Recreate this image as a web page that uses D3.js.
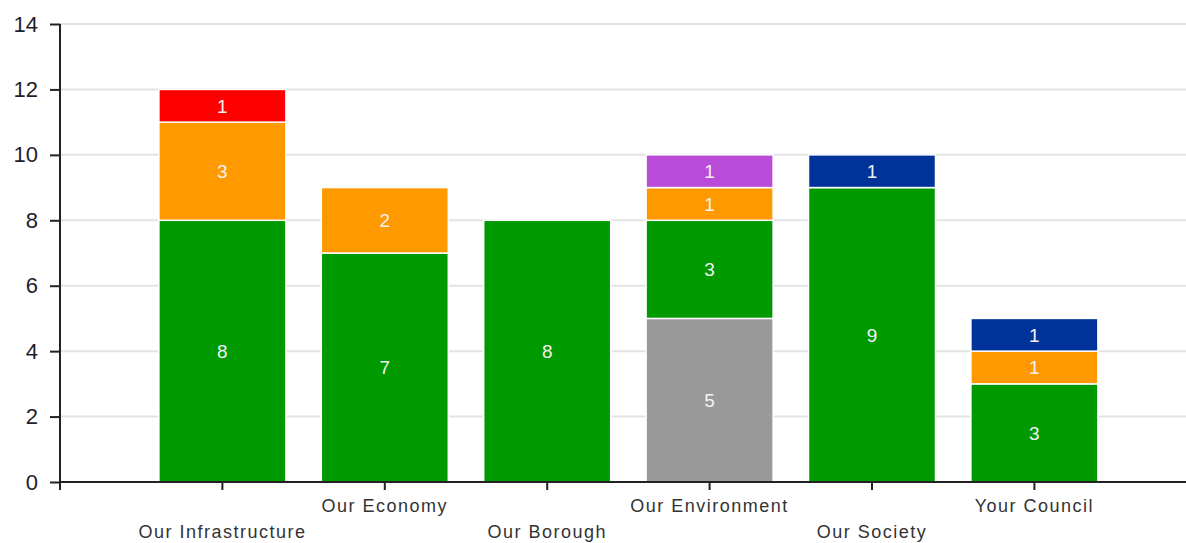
<!DOCTYPE html>
<html>
<head>
<meta charset="utf-8">
<style>
body { margin: 0; background: #fff; }
svg { display: block; font-family: "Liberation Sans", Arial, sans-serif; }
.grid line { stroke: #e3e3e3; stroke-width: 2px; }
.ylab { font-size: 22px; fill: #1e1e2e; }
.xlab { font-size: 18px; fill: #333; letter-spacing: 1.5px; }
.val { font-size: 19px; fill: #f2f2f2; }
</style>
</head>
<body>
<svg width="1186" height="543"></svg>
<script src="https://cdn.jsdelivr.net/npm/d3@7"></script>
<script>
// data
var categories = ["Our Infrastructure", "Our Economy", "Our Borough", "Our Environment", "Our Society", "Your Council"];
var seriesKeys = ["grey", "green", "amber", "red", "purple", "blue"];
var grey   = [0, 0, 0, 5, 0, 0];
var green  = [8, 7, 8, 3, 9, 3];
var amber  = [3, 2, 0, 1, 0, 1];
var red    = [1, 0, 0, 0, 0, 0];
var purple = [0, 0, 0, 1, 0, 0];
var blue   = [0, 0, 0, 0, 1, 1];
var yTicks = [0, 2, 4, 6, 8, 10, 12, 14];

var colors = ["#999999", "#009900", "#ff9900", "#ff0000", "#b94bd8", "#003399"];

var svg = d3.select("svg"),
    W = +svg.attr("width"),
    plotL = 60, plotT = 24, plotB = 482,
    step = 162.4;

var seriesVals = [grey, green, amber, red, purple, blue];
var rows = categories.map(function(c, i) {
  var r = {cat: c};
  seriesKeys.forEach(function(k, j) { r[k] = seriesVals[j][i]; });
  return r;
});

// first slot left empty, like the original
var x = d3.scaleBand()
    .domain(categories)
    .range([plotL + step * 0.5, plotL + step * 6.5])
    .paddingInner(0.218)
    .paddingOuter(0.109);

var y = d3.scaleLinear().domain([0, 14]).range([plotB, plotT]);

var z = d3.scaleOrdinal().domain(seriesKeys).range(colors);

// gridlines
svg.append("g").attr("class", "grid")
  .selectAll("line")
  .data(yTicks.filter(function(d) { return d > 0; }))
  .enter().append("line")
    .attr("x1", plotL).attr("x2", W)
    .attr("y1", function(d) { return y(d); })
    .attr("y2", function(d) { return y(d); });

var stacked = d3.stack().keys(seriesKeys)(rows);

var layer = svg.selectAll(".serie")
  .data(stacked)
  .enter().append("g")
    .attr("class", "serie")
    .attr("fill", function(d) { return z(d.key); });

layer.selectAll("rect")
  .data(function(d) { return d.filter(function(s) { return s[1] > s[0]; }); })
  .enter().append("rect")
    .attr("x", function(d) { return x(d.data.cat); })
    .attr("y", function(d) { return y(d[1]); })
    .attr("width", x.bandwidth())
    .attr("height", function(d) { return y(d[0]) - y(d[1]); })
    .attr("stroke", "#fff")
    .attr("stroke-width", 1.5);

layer.selectAll("text")
  .data(function(d) { return d.filter(function(s) { return s[1] > s[0]; }); })
  .enter().append("text")
    .attr("class", "val")
    .attr("x", function(d) { return x(d.data.cat) + x.bandwidth() / 2; })
    .attr("y", function(d) { return (y(d[0]) + y(d[1])) / 2; })
    .attr("dy", "0.36em")
    .attr("text-anchor", "middle")
    .text(function(d) { return d[1] - d[0]; });

// x axis
var xAxis = svg.append("g")
    .attr("transform", "translate(0," + plotB + ")")
    .call(d3.axisBottom(x).tickSize(8).tickSizeOuter(0));
xAxis.select(".domain").remove();
xAxis.selectAll(".tick line").attr("stroke", "#222").attr("stroke-width", 2);
xAxis.selectAll(".tick text")
    .attr("class", "xlab")
    .attr("font-size", null).attr("font-family", null).attr("fill", null)
    .attr("y", function(d, i) { return i % 2 === 0 ? 50 : 24; })
    .attr("dy", "0.35em");
xAxis.append("line")
    .attr("x1", plotL).attr("x2", W)
    .attr("stroke", "#222").attr("stroke-width", 2);

// y axis
var yAxis = svg.append("g")
    .attr("transform", "translate(" + plotL + ",0)")
    .call(d3.axisLeft(y).tickValues(yTicks).tickSize(10).tickSizeOuter(0).tickPadding(12));
yAxis.select(".domain").remove();
yAxis.selectAll(".tick line").attr("stroke", "#222").attr("stroke-width", 2);
yAxis.selectAll(".tick text")
    .attr("class", "ylab")
    .attr("font-size", null).attr("font-family", null).attr("fill", null);
yAxis.append("line")
    .attr("y1", plotT).attr("y2", plotB + 8)
    .attr("stroke", "#222").attr("stroke-width", 2);
</script>
</body>
</html>
